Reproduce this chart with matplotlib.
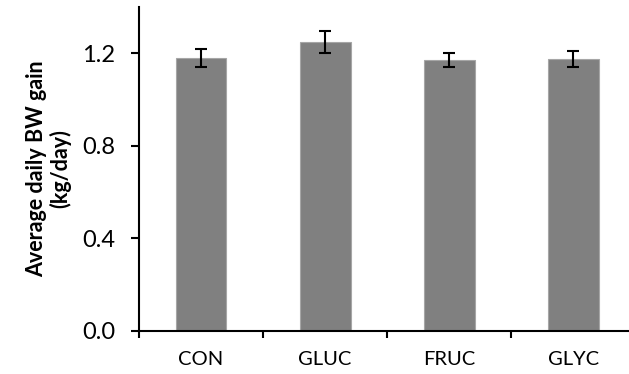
import numpy as np
import matplotlib.pyplot as plt

groups = ["CON", "GLUC", "FRUC", "GLYC"]
adg = [1.18, 1.25, 1.17, 1.175]
adg_se = [0.04, 0.047, 0.031, 0.034]
yticks = [0.0, 0.4, 0.8, 1.2]

plt.rcParams['font.family'] = ['Lato', 'DejaVu Sans']

def main():
    fig = plt.figure(figsize=(6.29, 3.74), dpi=100)
    ax = fig.add_axes([0.221, 0.116, 0.789, 0.865])
    x = np.arange(len(groups))
    ax.bar(x, adg, width=0.41, color="#808080", edgecolor="#a6a6a6", linewidth=0.8)
    ax.errorbar(x, adg, yerr=adg_se, fmt="none", ecolor="black",
                elinewidth=1.5, capsize=4.5, capthick=1.5)

    ax.set_xlim(-0.5, len(groups) - 0.5)
    ax.set_ylim(0, 1.4)
    ax.set_yticks(yticks)
    ax.set_yticklabels(["%.1f" % v for v in yticks], fontsize=17)
    ax.set_xticks(x)
    ax.set_xticklabels(groups, fontsize=14.5)
    ax.set_xticks(np.arange(len(groups)) - 0.5, minor=True)
    ax.tick_params(axis="x", which="major", length=0, pad=15)
    ax.tick_params(axis="x", which="minor", length=5, width=1.5, direction="out")
    ax.tick_params(axis="y", length=6, width=1.5, pad=11)

    for side in ["top", "right"]:
        ax.spines[side].set_visible(False)
    ax.spines["left"].set_linewidth(1.5)
    ax.spines["bottom"].set_linewidth(1.5)

    ax.set_ylabel("Average daily BW gain\n(kg/day)", fontsize=15.5,
                  fontweight="bold", labelpad=8, linespacing=1.1)

    fig.savefig("out.png", dpi=100)

if __name__ == '__main__':
    main()
